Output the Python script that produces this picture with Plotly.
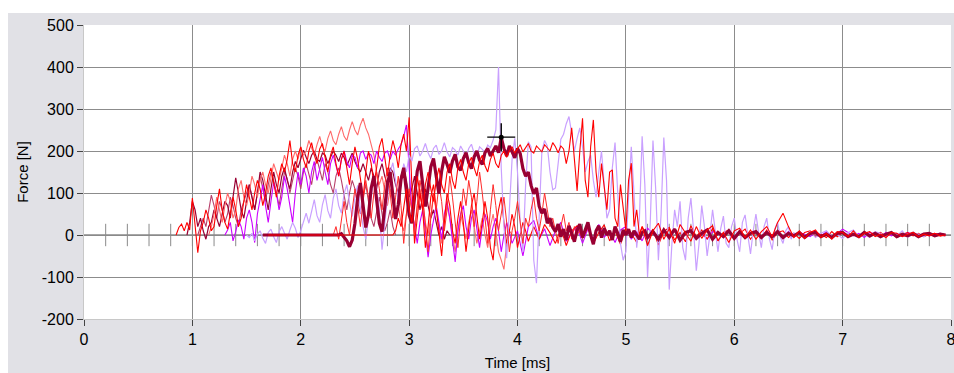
import numpy as np
import plotly.graph_objects as go

# ---- sampling ---------------------------------------------------------------
DT_FAST = 0.025   # ms, impact phase
DT_TAIL = 0.05    # ms, ringing / decay phase

# ---- axes -------------------------------------------------------------------
x_ticks = [0, 1, 2, 3, 4, 5, 6, 7, 8]
x_tick_labels = ["0", "1", "2", "3", "4", "5", "6", "7", "8"]
y_ticks = [-200, -100, 0, 100, 200, 300, 400, 500]
y_tick_labels = ["-200", "-100", "0", "100", "200", "300", "400", "500"]

# ---- force traces [N] -------------------------------------------------------
# thick maroon
maroon_bold_on = 1.65
maroon_bold_start = 2.35
maroon_bold = [0, 3, -6, -14, -28, -12, 28, 88, 124, 62, 18, 48, 112, 140, 78, 28, 8, 58, 122, 150,
               92, 38, 72, 132, 160, 108, 48, 28, 92, 152, 176, 118, 68, 112, 162, 182, 138, 98, 152, 186,
               168, 148, 176, 192, 162, 154, 182, 196, 172, 158, 186, 200, 178, 168, 196, 206, 188, 200, 212, 196,
               232, 206, 188, 212, 200, 184, 206, 194, 158, 140, 150, 118, 98, 112, 68, 52, 62, 28, 40, 18,
               8, 26, -4, 14, -12, 22, 4, -16, 12, 26, -6, 14, 30, 0, -22, 10, 22, -6, 16, 0,
               10, -12, 20, 4, -16, 12, 0, 14, -6, 10, 0, -10, 6, 10, -6, 0]
maroon_bold_tail = [8, -10, 12, -6, 14, -12, 6, 10, -8, 4, 12, -10, 6, -4, 10, -8, 8, -6, 4, 8,
                    -6, 6, -4, 8, -6, 4, -2, 6, -6, 4, 6, -4, 2, -6, 4, 6, -4, 2, -4, 6,
                    -2, 4, -4, 2, 6, -4, 2, -2, 4, -4, 2, 4, -2, 2, 0]

# lavender
lavender_start = 1.5
lavender = [0, -6, 4, -14, 2, 10, -8, -20, 6, 14, -4, -18, 8, 20, 4, -10, 12, 30, 16, -6,
            10, 34, 52, 28, 60, 84, 46, 30, 72, 96, 58, 40, 88, 110, 70, 52, 98, 120, 76, 44, 90, 118, 62, 20,
            -10, 40, 96, 140, 110, 60, -35, 20, 90, 150, 172, 130, 80, 120, 170, 150,
            190, 176, 205, 212, 188, 200, 218, 196, 182, 206, 214, 192, 200, 220, 198, 186,
            208, 202, 190, 212, 200, 184, 206, 216, 194, 188, 210, 204, 196, 214, 208, 226,
            250, 400, 160, 20, -55, 60, 180, 230, 150, 30, -40, 120, 222, 210, -60, -115,
            60, 200, 225, 212, 150, 108, 112, 170, 228, 240, 265, 282,
            240, 200, 230, 255, 210, 150, 175, 190, 130, 90, 150, 200, 120, 40, 60, 160, 220, 110, -20, -60,
            -40, 90, 210, 100, -30, 40, 235, 120, -100, 30, 225, 110, -60, 50, 232, 130, -130, -20, 60, 20,
            80, -30, -60, 40, 88, 10, -85, -20, 70, 20, -50, 0, 60, 10, -40, 15, 45, -20, -30, 20,
            40, -10, -40, 30, 48, 0, -45, 10, 50, 5, -30, 20, 40, -10, -35, 15, 30, -5, -20, 10, 20, -10, 5, 0]
lavender_tail = [6, -4, 8, -6, 4, 10, -4, 2, -8, 6, 12, -4, 2, -6, 8, 4, -4, 6, -2, 10,
                 -6, 4, 2, -4, 6, -2, 4, 0]

# bright red, early rise
red_a_start = 0.85
red_a = [0, 18, 26, 10, 30, 12, 88, 20, -42, 10,
         30, 60, 40, 10, 20, 70, 110, 60, 30, 14, 50, 90, 60, 20, 40, 80,
         120, 90, 60, 100, 130, 110, 70, 100, 140, 160, 120, 90, 140, 170, 150, 180,
         225, 170, 150, 190, 210, 180, 160, 200, 220, 190, 170, 205, 218, 180, 150, 190, 210, 170, 140, 180,
         200, 160, 120, 170, 210, 180, 130, 90, 150, 200, 170, 120, 160, 210, 230, 180, 140, 190, 225, 200,
         160, 215, 240, 200,
         280, 120, -20, 40, 100, 60, -30, 20, 90, 120, 60, 0, -50, 30, 100, 70, 10, -20, 40, 80,
         30, -40, 10, 70, 100, 50, -10, 30, 80, 40, -30, -60, 20, 60, 90, 30, -20, 10, 50, 20, -30, 0, 30, 10]
red_a_tail = [-15, 20, -10, 25, 5, -20, 15, -25, 10, 22, -8, 18, -20, 6, 24, -14, 10, -22, 16, 4,
              -18, 20, -6, 14, -24, 8, 18, -12, 6, -16, 22, -4, 12, -10, 16, -14, 6, 12, -8, 4,
              14, -10, 8, -6, 12, -12, 6, 10, -6, 4, -8, 6, 10, -4, 2, -6, 8, -4, 6, -2,
              4, -6, 8, -4, 2, 6, -4, 4, -6, 2, 6, -2, 4, -4, 2, 4, -2, 0]

# light red, highest envelope
salmon_start = 1.15
salmon = [0, 20, 50, 90, 60, 30, 70, 100, 80, 40, 60, 110, 130, 90,
          70, 100, 140, 120, 90, 130, 150, 120, 100, 140, 170, 150, 130, 160, 190, 170, 140, 180, 200, 180,
          210, 190, 200, 225, 205, 190, 215, 235, 210, 200, 230, 248, 225, 215, 240, 258, 235, 225, 250, 270,
          250, 238, 262, 278,
          255, 240, 215, 190, 150, 120, 140, 100, 70, 110, 80, 40, 70, 30, 10, 50,
          90, 60, 20, 70, 110, 80, 30, 0, 50, 90, 60, 20, -20, 30, 70, 40, 0, -40, 10, 50,
          20, -10, 30, 60, 20, -20, 10, 40, 0, -30, 20, 50, 10, -40, -60, -82, -20, 10, 0]

# bright red, late plateau
red_b_on = 1.7
red_b_start = 2.85
red_b = [0, 10, 40, 20, 70, 110, 60, 30, 90, 140, 100, 60, 120, 150, 110, 80, 130, 160,
         120, 100, 150, 170, 130, 110, 160, 180, 150, 130, 170, 185, 160, 140, 175, 190, 165, 150, 180, 195,
         170, 160, 190, 200,
         185, 200, 210, 195, 205, 215, 198, 208, 218, 200, 195, 212, 205, 198, 215, 208, 200, 220, 210, 196,
         212, 205,
         170, 200, 255, 180, 105, 200, 278, 130, 90, 210, 274, 150, 90, 170, 120, 60, 150, 155, 40, 20,
         120, 60, 10, 130, 171, 20, 60, 0]
red_b_tail = [20, -25, 10, 28, -10, 15, -20, 25, 5, -15, 20, -8, 12, 22, -14, 6, -18, 10, 16, -6,
              12, -10, 8, 20, -4, 30, 52, 20, -6, 10, -8, 6, 12, -6, 4, -10, 8, 6, -4, 10,
              -6, 4, 8, -4, 2, -6, 6, 4, -4, 2, 6, -4, 2, -2, 4, -2, 0]

# violet
violet_start = 1.3
violet = [0, 12, 30, -14, 8, 36, 20, -10, 40, 60, 30, -18,
          50, 90, 120, 70, 30, 80, 125, 100, 60, 90, 140, 110, 70, 30, 100, 150,
          120, 160, 140, 100, 150, 175, 130, 160, 185, 150, 120, 170, 190, 165, 140, 180, 200, 175, 160, 190,
          185, 160, 195, 200,
          180, 195, 190, 170, 200, 185, 175, 195, 200, 180, 200, 190, 205, 215, 235, 262, 150, 60,
          20, -20, 30, 60, 10, -53, 0, 40, 70, 30, -10, 50, 80, 40, -20, -64, 10, 50, 70, 20,
          -10, 40, 60, 10, -30, 20, 50, 30, -10, 20, 40, 10, -40, 0]
violet_tail = [30, -20, 10, -50, 20, 35, -10, 15, -25, 10, 30, -15, 5, 20, -20, 15, -10, 25, -5, 10,
               -18, 12, 20, -10, 8, -14, 16, 4, -12, 10, -6, 14, -10, 6, 12, -8, 4, -10, 8, 6,
               -6, 10, -4, 8, -8, 4, 6, -6, 10, -2, 4, -6, 8, -4, 6, 2, -4, 6, -2, 8,
               -4, 4, 14, 6, -2, 4, -6, 6, 2, -4, 6, -2, 4, -4, 6, 2, -2, 4, -2, 2, 4, 0]

# thin maroon
maroon_start = 0.95
maroon = [0, 30, 80, 60, 20, 40, 10, -10, 20, 30,
          60, 40, 20, 50, 80, 70, 40, 90, 136, 100, 60, 40, 80, 120, 90, 60,
          100, 150, 130, 90, 60, 110, 150, 120, 100, 140, 160, 130, 110, 150, 175, 160,
          180, 202, 185, 170, 190, 200, 180, 175, 195, 190, 170, 185, 200, 190, 175, 195, 185, 165, 180, 195,
          175, 160, 150, 170,
          150, 130, 160, 140, 110, 150, 170, 140, 120, 160, 150, 120, 100, 140, 160, 130, 90, 110, 140, 100,
          60, 90, 110, 70, 40, 60, 30, 0, 20, -10, 10, 0]

# rose
rose_start = 1.05
rose = [0, 20, 40, 20, 60, 95, 70, 40, 80, 60, 30, 50, 90, 70, 40, 20, 60, 80,
        100, 120, 90, 60, 100, 140, 110, 80, 120, 150, 130, 100, 70, 110, 150, 135, 100, 130, 160, 140,
        110, 150, 170, 145, 120, 160, 180, 155,
        130, 170, 150, 120, 100, 140, 160, 130, 90, 60, 100, 130, 110, 80, 50, 90, 120, 80, 40, 20,
        60, 90, 50, 10, 30, 60, 20, 0]

# red, mid-level
red_d_start = 2.3
red_d = [0, 20, -10, 40, 80, 30, 0, 60, 110, 70, 20, 80, 130, 90, 40, 100, 150, 110, 60, 120,
         160, 100, 40, 90, 140, 70, -20, 50,
         110, 60, 0, 70, 130, 90, 20, -40, 40, 100, 60, 120, 80, 10, 60, 140, 90, 30, -30, 40,
         110, 70, 130, 90, 20, 80, 150, 100, 40, -20, 60, 120, 70, 10, 50, 90, 30, -40, 10, 40,
         80, 30, -20, 40, 20, 60, 90, 40, 10, 50, 100, 60, 20, 40, 10, -20, 20, 50, 10, 30, -10, 20, 0, 10]

# reference line with 0.2 ms markers
marker_times = [0.2, 0.4, 0.6, 0.8, 1.0, 1.2, 1.4, 1.6, 1.8, 2.0, 2.2, 2.4, 2.6, 2.8, 3.0, 3.2, 3.4, 3.6,
                3.8, 4.0, 4.2, 4.4, 4.6, 4.8, 5.0, 5.2, 5.4, 5.6, 5.8, 6.0, 6.2, 6.4, 6.6, 6.8, 7.0,
                7.2, 7.4, 7.6, 7.8]
marker_values = [0] * len(marker_times)

# cursor
cursor_t = [3.85]
cursor_f = [233]


def series(start, active, tail=None, t_on=None):
    t = list(start + DT_FAST * np.arange(len(active)))
    y = list(active)
    if tail:
        t0 = start + DT_FAST * len(active)
        t += list(t0 + DT_TAIL * np.arange(len(tail)))
        y += list(tail)
    if t_on is not None:
        t = [t_on] + t
        y = [0] + y
    return np.round(t, 4), y


fig = go.Figure()

# zero reference with marker ticks
fig.add_trace(go.Scatter(x=[0] + marker_times + [8], y=[0] + marker_values + [0], mode="lines",
                         line=dict(color="#8a8a8a", width=1.6), hoverinfo="skip"))
fig.add_trace(go.Scatter(x=marker_times, y=marker_values, mode="markers",
                         marker=dict(symbol="line-ns", size=16, line=dict(color="#8a8a8a", width=1)),
                         hoverinfo="skip"))

layers = [
    (rose_start, rose, None, None, "#b8406a", 1.1),
    (maroon_start, maroon, None, None, "#990033", 1.2),
    (salmon_start, salmon, None, None, "#ff6a6a", 1.1),
    (violet_start, violet, violet_tail, None, "#cc00ff", 1.1),
    (red_a_start, red_a, red_a_tail, None, "#ff0000", 1.1),
    (lavender_start, lavender, lavender_tail, None, "#c9a0ff", 1.2),
    (red_d_start, red_d, None, None, "#ff2a2a", 1.0),
    (maroon_bold_start, maroon_bold, maroon_bold_tail, maroon_bold_on, "#990033", 3.2),
    (red_b_start, red_b, red_b_tail, red_b_on, "#ff0000", 1.1),
]
for start, vals, tail, t_on, color, width in layers:
    tx, fy = series(start, vals, tail, t_on)
    fig.add_trace(go.Scatter(x=tx, y=fy, mode="lines", line=dict(color=color, width=width),
                             hoverinfo="skip"))

fig.add_trace(go.Scatter(x=cursor_t, y=cursor_f, mode="markers",
                         marker=dict(symbol="cross-thin", size=20, line=dict(color="black", width=1.4)),
                         hoverinfo="skip"))
fig.add_trace(go.Scatter(x=cursor_t, y=cursor_f, mode="markers",
                         marker=dict(symbol="circle", size=5, color="black"), hoverinfo="skip"))

W, H = 954, 373
L, R, T, B = 84, 3, 25, 54
pw, ph = W - L - R, H - T - B

# grey frame around the plot, with a white strip along the top and left edges
fig.update_layout(
    width=W, height=H,
    margin=dict(l=L, r=R, t=T, b=B, autoexpand=False),
    paper_bgcolor="#e1e1e6",
    plot_bgcolor="white",
    showlegend=False,
    font=dict(family="Liberation Sans, Arial, sans-serif", size=16, color="black"),
    shapes=[
        dict(type="rect", xref="paper", yref="paper", layer="below",
             x0=-L / pw - 0.01, x1=1 + R / pw + 0.01, y0=1 + (T - 13) / ph, y1=1 + T / ph + 0.01,
             fillcolor="white", line=dict(width=0)),
        dict(type="rect", xref="paper", yref="paper", layer="below",
             x0=-L / pw - 0.01, x1=-(L - 8) / pw, y0=-B / ph - 0.01, y1=1 + T / ph + 0.01,
             fillcolor="white", line=dict(width=0)),
    ],
)
fig.update_xaxes(range=[0, 8], tickvals=x_ticks, ticktext=x_tick_labels,
                 ticks="outside", ticklen=6, tickcolor="#444", tickwidth=1,
                 ticklabeloverflow="allow", automargin=False,
                 showgrid=True, gridcolor="#8c8c8c", gridwidth=1.2, zeroline=False,
                 showline=True, linecolor="#c8c8c8", linewidth=1,
                 title=dict(text="Time [ms]", font=dict(size=15), standoff=10))
fig.update_yaxes(range=[-200, 500], tickvals=y_ticks, ticktext=y_tick_labels,
                 ticks="outside", ticklen=6, tickcolor="#444", tickwidth=1,
                 automargin=False,
                 showgrid=True, gridcolor="#8c8c8c", gridwidth=1.2, zeroline=False,
                 showline=True, linecolor="#c8c8c8", linewidth=1,
                 title=dict(text="Force [N]", font=dict(size=15), standoff=9))

fig.write_html("out.html")
